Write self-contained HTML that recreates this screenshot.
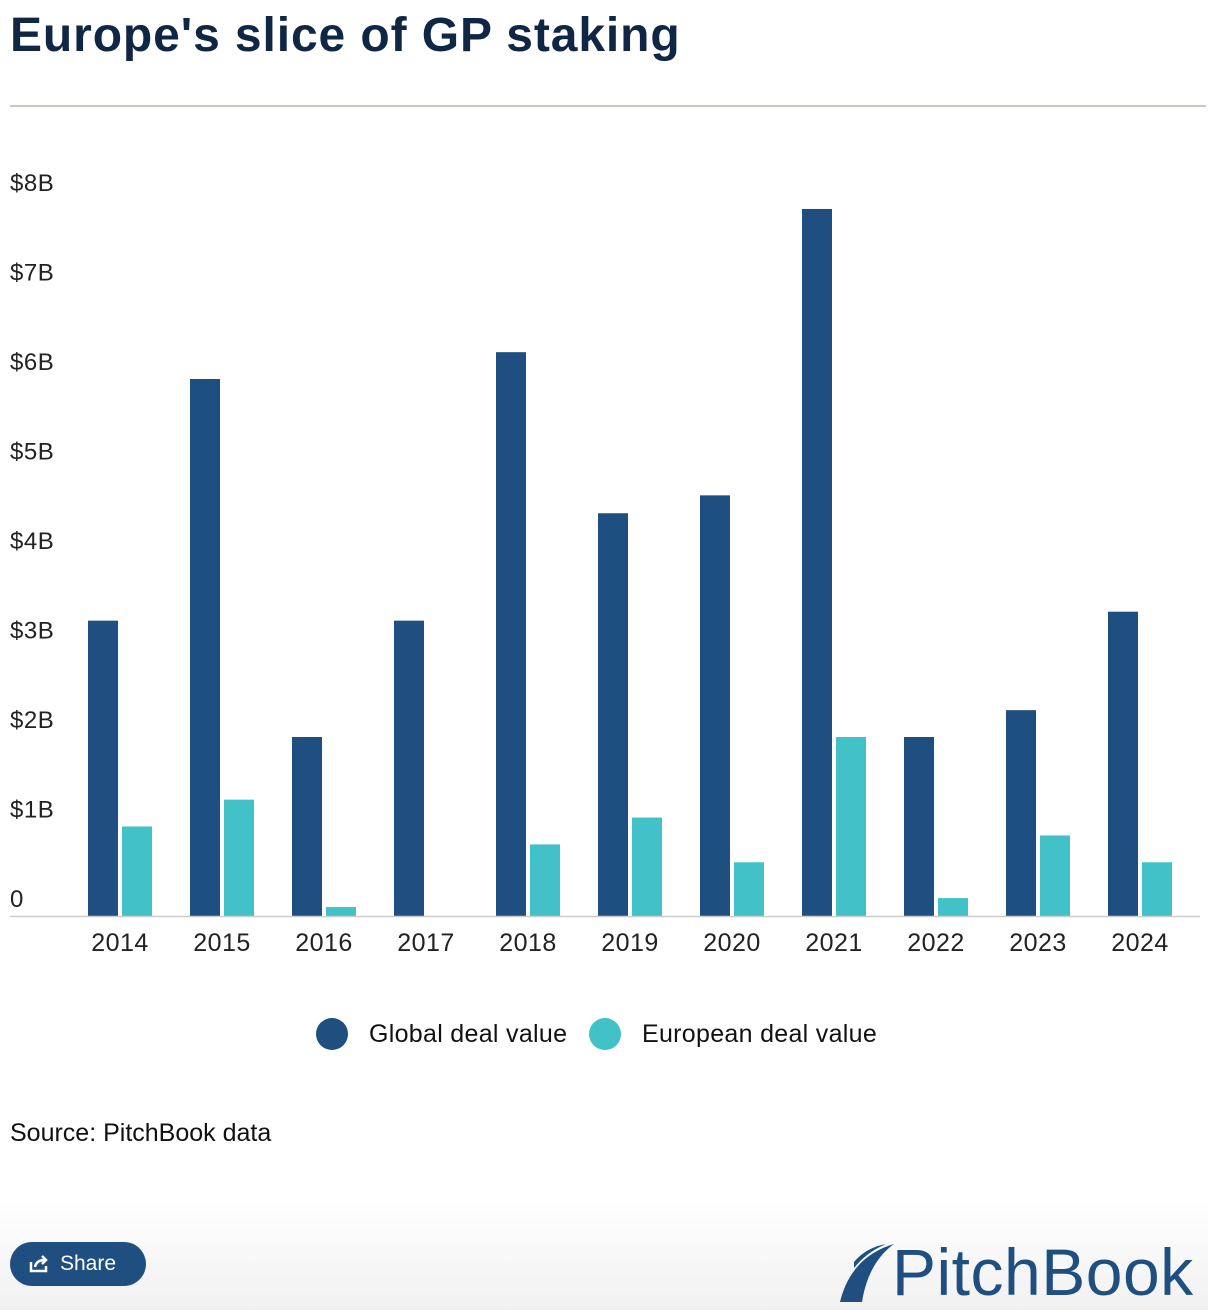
<!DOCTYPE html>
<html><head><meta charset="utf-8"><style>
body{margin:0;width:1208px;height:1310px;background:#fff;font-family:"Liberation Sans",sans-serif;position:relative;overflow:hidden}
.title{position:absolute;left:10px;top:8px;font-size:48px;font-weight:bold;color:#0f2744;letter-spacing:0.9px}
.rule{position:absolute;left:10px;top:105px;width:1196px;height:2px;background:#c9c9c0}
.src{position:absolute;left:10px;top:1119px;font-size:25px;color:#111}
.footer{position:absolute;left:0;top:1200px;width:1208px;height:110px;background:linear-gradient(#fff,#f1f1f1)}
.share{position:absolute;left:10px;top:1242px;width:136px;height:44px;border-radius:22px;background:#1e4f80;color:#fff;font-size:21px;line-height:44px}
.logo{position:absolute;left:892px;top:1234px;font-size:66px;color:#1e4f80;letter-spacing:0.5px}
</style></head><body>
<div class="title">Europe's slice of GP staking</div>
<div class="rule"></div>
<svg id="chart" width="1208" height="1100" style="position:absolute;left:0;top:0"></svg>
<div class="src">Source: PitchBook data</div>
<div class="footer"></div>
<div class="share"><svg width="22" height="20" style="position:absolute;left:18px;top:12px"><path d="M3 8v9h15v-5" stroke="#fff" stroke-width="2.5" fill="none"/><path d="M7 13c1-5 5-7 10-7M14 2l4 4-4 4" stroke="#fff" stroke-width="2.5" fill="none"/></svg><span style="position:absolute;left:50px">Share</span></div>
<svg width="60" height="64" style="position:absolute;left:836px;top:1242px"><path d="M4 60 C10 35 25 12 58 2 C40 15 30 35 26 60 Z" fill="#1e4f80"/><path d="M18 20 C26 10 38 4 50 2 C36 8 26 16 18 26Z" fill="#1e4f80"/></svg>
<div class="logo">PitchBook</div>
<script>
const years=["2014","2015","2016","2017","2018","2019","2020","2021","2022","2023","2024"];
const globalVals=[3.3,6.0,2.0,3.3,6.3,4.5,4.7,7.9,2.0,2.3,3.4];
const europeVals=[1.0,1.3,0.1,0,0.8,1.1,0.6,2.0,0.2,0.9,0.6];
const yTicks=[0,1,2,3,4,5,6,7,8];
const yTickLabels=["0","$1B","$2B","$3B","$4B","$5B","$6B","$7B","$8B"];
const NS="http://www.w3.org/2000/svg";
const svg=document.getElementById('chart');
const y0=916,pxPer=89.5;
const y=v=>y0-v*pxPer;
const x=i=>120+i*102;
function mk(t,a){const e=document.createElementNS(NS,t);for(const k in a)e.setAttribute(k,a[k]);svg.appendChild(e);return e;}
yTicks.forEach((t,i)=>{const e=mk('text',{x:10,y:y(t)-9,'font-size':24,fill:'#222','letter-spacing':'0.5'});e.textContent=yTickLabels[i];

});
years.forEach((yr,i)=>{
const g=mk('rect',{x:x(i)-32,y:y(globalVals[i]),width:30,height:globalVals[i]*pxPer,fill:'#1e4f80'});


const e=mk('rect',{x:x(i)+2,y:y(europeVals[i]),width:30,height:europeVals[i]*pxPer,fill:'#42c2c8'});


const t=mk('text',{x:x(i),y:951,'font-size':25,fill:'#222','text-anchor':'middle','letter-spacing':'0.5'});t.textContent=yr;


});
const ax=mk('line',{x1:10,x2:1200,y1:y0+0.5,y2:y0+0.5,stroke:'#ccc','stroke-width':1.5});


const leg=[["Global deal value","#1e4f80",332],["European deal value","#42c2c8",605]];
leg.forEach(l=>{const c=mk('circle',{cx:l[2],cy:1034,r:16,fill:l[1]});


const t=mk('text',{x:l[2]+37,y:1042,'font-size':25,fill:'#111','letter-spacing':'0.3'});t.textContent=l[0];

});
</script>
</body></html>
